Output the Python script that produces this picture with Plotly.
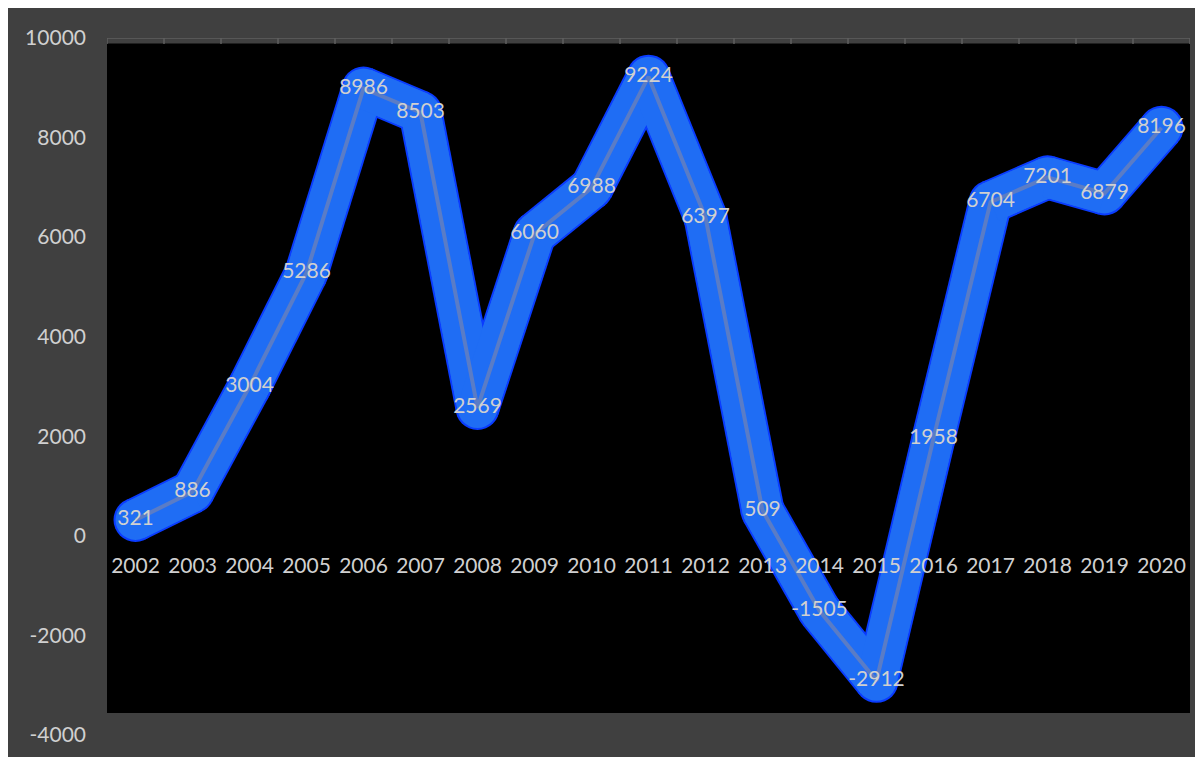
import plotly.graph_objects as go

years = [str(y) for y in range(2002, 2021)]
values = [321, 886, 3004, 5286, 8986, 8503, 2569, 6060, 6988, 9224,
          6397, 509, -1505, -2912, 1958, 6704, 7201, 6879, 8196]
y_ticks = [-4000, -2000, 0, 2000, 4000, 6000, 8000, 10000]

OFF = 8  # page body margin
W, H = 1203 - OFF, 757 - OFF
FONT = "Lato"
TXT = "#d0d0d0"

def px_x(p):
    return (p - OFF) / W

def px_y(p):
    return 1 - (p - OFF) / H

# split the line into independent segments so that joins are rounded by markers
seg_x, seg_y = [], []
for i in range(len(years) - 1):
    seg_x += [years[i], years[i + 1], None]
    seg_y += [values[i], values[i + 1], None]

fig = go.Figure()

for color, w in (("#0a3cff", 44), ("#1f6df4", 40)):
    fig.add_trace(go.Scatter(
        x=seg_x, y=seg_y, mode="lines", connectgaps=False,
        line=dict(color=color, width=w),
        hoverinfo="skip", showlegend=False, cliponaxis=False))
    fig.add_trace(go.Scatter(
        x=years, y=values, mode="markers",
        marker=dict(size=w, color=color, line=dict(width=0)),
        hoverinfo="skip", showlegend=False, cliponaxis=False))
fig.add_trace(go.Scatter(
    x=seg_x, y=seg_y, mode="lines", connectgaps=False,
    line=dict(color="#1f6df4", width=40),
    hoverinfo="skip", showlegend=False, cliponaxis=False))
fig.add_trace(go.Scatter(
    x=years, y=values, mode="lines",
    line=dict(color="#5a7cc6", width=4),
    hoverinfo="skip", showlegend=False, cliponaxis=False))
fig.add_trace(go.Scatter(
    x=years, y=values, mode="text",
    text=[str(v) for v in values], textposition="middle center",
    textfont=dict(family=FONT, size=21, color=TXT),
    hoverinfo="skip", showlegend=False, cliponaxis=False))

shapes = [
    dict(type="rect", xref="paper", yref="paper", x0=px_x(107), x1=px_x(1190),
         y0=px_y(713), y1=px_y(43.5), fillcolor="#000000", line=dict(width=0), layer="below"),
    dict(type="line", xref="x", yref="y", x0=-0.5, x1=len(years) - 0.5, y0=10000, y1=10000,
         line=dict(color="#5f5f5f", width=1.5), layer="below"),
]
for k in range(len(years) + 1):
    shapes.append(dict(type="line", xref="x", yref="y", x0=k - 0.5, x1=k - 0.5,
                       y0=10000, y1=10000 - 120,
                       line=dict(color="#5f5f5f", width=1.5), layer="below"))

fig.update_layout(
    width=W, height=H, autosize=False,
    margin=dict(l=0, r=0, t=0, b=0, pad=0),
    paper_bgcolor="#404040",
    plot_bgcolor="rgba(0,0,0,0)",
    shapes=shapes,
    xaxis=dict(
        domain=[px_x(107), px_x(1190)],
        type="category", categoryorder="array", categoryarray=years,
        range=[-0.5, len(years) - 0.5],
        anchor="free", position=px_y(535),
        showline=False, showgrid=False, zeroline=False, ticks="",
        ticklabelstandoff=16, automargin=False,
        tickfont=dict(family=FONT, size=21, color=TXT),
    ),
    yaxis=dict(
        domain=[px_y(735), px_y(38)],
        range=[-4000, 10000], tickvals=y_ticks,
        ticktext=[str(v) for v in y_ticks],
        showline=False, showgrid=False, zeroline=False, ticks="",
        ticklabelstandoff=20, automargin=False,
        tickfont=dict(family=FONT, size=21, color=TXT),
    ),
)

fig.write_html("out.html")
